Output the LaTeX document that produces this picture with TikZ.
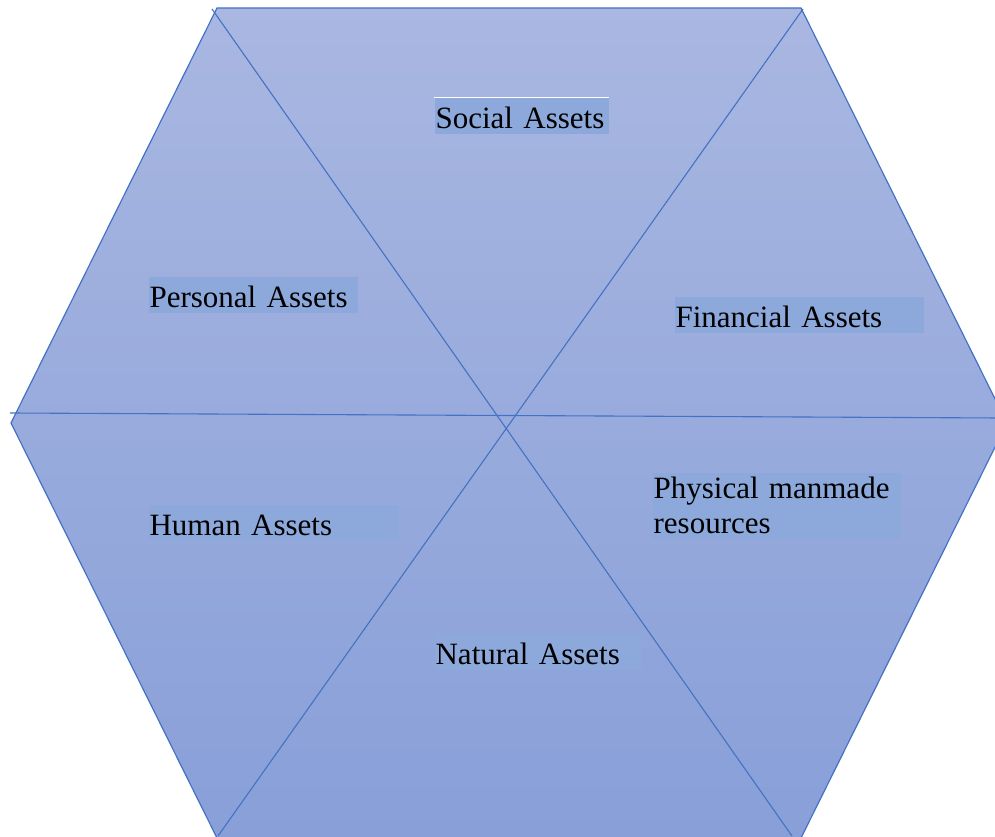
\documentclass[tikz,border=0pt]{standalone}
\usepackage{fontspec}
\setmainfont{Liberation Serif}

\definecolor{hexline}{HTML}{4472C4}
\definecolor{hextop}{HTML}{A9B7E1}
\definecolor{hexbottom}{HTML}{889FD8}
\definecolor{boxblue}{HTML}{8DA9DB}

\begin{document}
\begin{tikzpicture}[x=1pt,y=1pt,line width=1.2pt]
    \tikzstyle{asset}=[fill=boxblue,anchor=north west,inner xsep=1pt,inner ysep=0pt,
        align=left,font=\fontsize{31}{35}\selectfont]
    \tikzstyle{oneline}=[asset,text height=31pt,text depth=5pt]
    \tikzstyle{divider}=[draw=hexline,line width=1.1pt]

    \useasboundingbox (0,0) rectangle (995,836);
    \clip (0,0) rectangle (995,836);

    % Corners of the hexagon
    \coordinate (TL) at (217,828);
    \coordinate (TR) at (801,828);
    \coordinate (R)  at (1007,413);
    \coordinate (BR) at (801,-2);
    \coordinate (BL) at (217,-2);
    \coordinate (L)  at (11,413);

    % Draw the shaded hexagon
    \draw[hexline,top color=hextop,bottom color=hexbottom]
        (TL) -- (TR) -- (R) -- (BR) -- (BL) -- (L) -- cycle;

    % End points of the three dividing lines
    \coordinate (d1a) at (212,827);
    \coordinate (d1b) at (792,0);
    \coordinate (d2a) at (803,827);
    \coordinate (d2b) at (218,0);
    \coordinate (hl)  at (10,423);
    \coordinate (hr)  at (1000,418);

    \draw[divider] (d1a) -- (d1b);
    \draw[divider] (d2a) -- (d2b);
    \draw[divider] (hl) -- (hr);

    % Draw the asset labels
    \foreach \name/\x/\y/\w/\txt in {social/434/97/174/Social Assets,
        personal/148/276/209/Personal Assets,
        financial/674/296/249/Financial Assets,
        human/148/504/250/Human Assets,
        natural/434/633/206/Natural Assets}
        \node[oneline,text width=\w pt-2pt] (\name) at (\x,836-\y) {\txt};
    \node[asset,text width=246pt,minimum height=66pt] (physical) at (652,836-472)
        {Physical manmade\\resources};

    \draw[white,line width=0.8pt] (social.north west) -- (social.north east);
\end{tikzpicture}
\end{document}
